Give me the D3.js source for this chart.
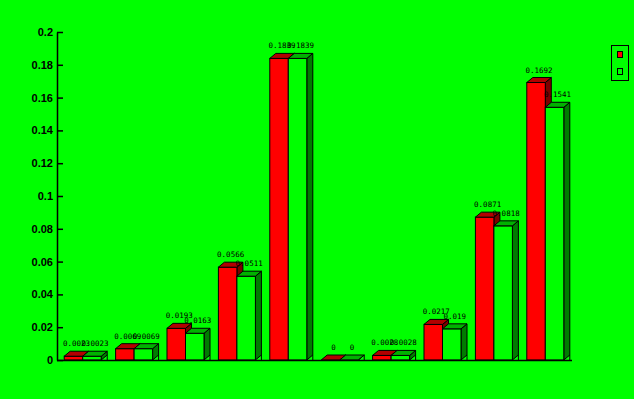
<!DOCTYPE html>
<html>
<head>
<meta charset="utf-8">
<script src="https://cdn.jsdelivr.net/npm/d3@7"></script>
<style>
  html, body { margin: 0; padding: 0; background: #00ff00; }
  svg { display: block; }
</style>
</head>
<body>
<svg id="chart" width="634" height="399"></svg>
<script>
const categories = ["1", "2", "3", "4", "5", "6", "7", "8", "9", "10"];
const seriesA = [0.0023, 0.0069, 0.0193, 0.0566, 0.1839, 0, 0.0028, 0.0217, 0.0871, 0.1692];
const seriesB = [0.0023, 0.0069, 0.0163, 0.0511, 0.1839, 0, 0.0028, 0.0190, 0.0818, 0.1541];
const yTicks = [0, 0.02, 0.04, 0.06, 0.08, 0.1, 0.12, 0.14, 0.16, 0.18, 0.2];

const W = 634, H = 399;
const plotLeft = 57, plotRight = 571, plotTop = 32, plotBottom = 360;
const dx = 6, dy = 5;

const svg = d3.select("#chart");
svg.append("rect").attr("width", W).attr("height", H).attr("fill", "#00ff00");

const x = d3.scaleBand().domain(categories).range([plotLeft, plotRight]).padding(0);
const y = d3.scaleLinear().domain([0, 0.2]).range([plotBottom, plotTop]);

const series = [
  { values: seriesA, front: "#ff0000", topc: "#b20000", side: "#7c0000" },
  { values: seriesB, front: "#00ff00", topc: "#00b200", side: "#007c00" }
];

const bw = x.bandwidth() * 0.36;
const g = svg.append("g").attr("stroke", "#000").attr("stroke-width", 1).attr("stroke-linejoin", "miter");

categories.forEach((c, i) => {
  const cx = x(c) + x.bandwidth() / 2;
  series.forEach((s, k) => {
    const x0 = cx - bw + k * bw;
    const x1 = x0 + bw;
    const yt = y(s.values[i]);
    const y0 = y(0);
    g.append("path")
      .attr("d", `M${x1},${yt}L${x1 + dx},${yt - dy}L${x1 + dx},${y0 - dy}L${x1},${y0}Z`)
      .attr("fill", s.side);
    g.append("path")
      .attr("d", `M${x1 + dx},${y0 - dy}L${x1 + dx},${y0}`)
      .attr("fill", "none");
    g.append("rect")
      .attr("x", x0).attr("y", yt)
      .attr("width", bw).attr("height", Math.max(0, y0 - yt))
      .attr("fill", s.front);
    g.append("path")
      .attr("d", `M${x0},${yt}L${x0 + dx},${yt - dy}L${x1 + dx},${yt - dy}L${x1},${yt}Z`)
      .attr("fill", s.topc);
  });
});

const lg = svg.append("g")
  .attr("font-family", "DejaVu Sans Mono, monospace")
  .attr("font-size", "7.5px")
  .attr("fill", "#000")
  .attr("text-anchor", "middle");
categories.forEach((c, i) => {
  const cx = x(c) + x.bandwidth() / 2;
  series.forEach((s, k) => {
    const x0 = cx - bw + k * bw;
    lg.append("text")
      .attr("x", x0 + bw / 2 + dx / 2)
      .attr("y", y(s.values[i]) - dy - 5)
      .text(String(s.values[i]));
  });
});

svg.append("line")
  .attr("x1", plotLeft).attr("x2", plotRight + 1)
  .attr("y1", plotBottom + 0.5).attr("y2", plotBottom + 0.5)
  .attr("stroke", "#000").attr("stroke-width", 1.5);

const yAxis = d3.axisLeft(y)
  .tickValues(yTicks)
  .tickSizeInner(-6)
  .tickSizeOuter(0)
  .tickPadding(4)
  .tickFormat(d => String(+d.toFixed(2)));
const ya = svg.append("g").attr("transform", `translate(${plotLeft},0)`).call(yAxis);
ya.select(".domain").attr("stroke", "#000").attr("stroke-width", 1.5);
ya.selectAll(".tick line").attr("stroke", "#000").attr("stroke-width", 1.5);
ya.selectAll(".tick text")
  .attr("font-family", "Liberation Sans, Arial, sans-serif")
  .attr("font-weight", "bold")
  .attr("font-size", "11px")
  .attr("fill", "#000");

const leg = svg.append("g");
leg.append("rect").attr("x", 611.5).attr("y", 45.5).attr("width", 17).attr("height", 35)
  .attr("fill", "none").attr("stroke", "#000").attr("stroke-width", 1);
series.forEach((s, k) => {
  leg.append("rect")
    .attr("x", 617.5).attr("y", 51.5 + k * 17)
    .attr("width", 5).attr("height", 6)
    .attr("fill", s.front).attr("stroke", "#000").attr("stroke-width", 1);
});
</script>
</body>
</html>
